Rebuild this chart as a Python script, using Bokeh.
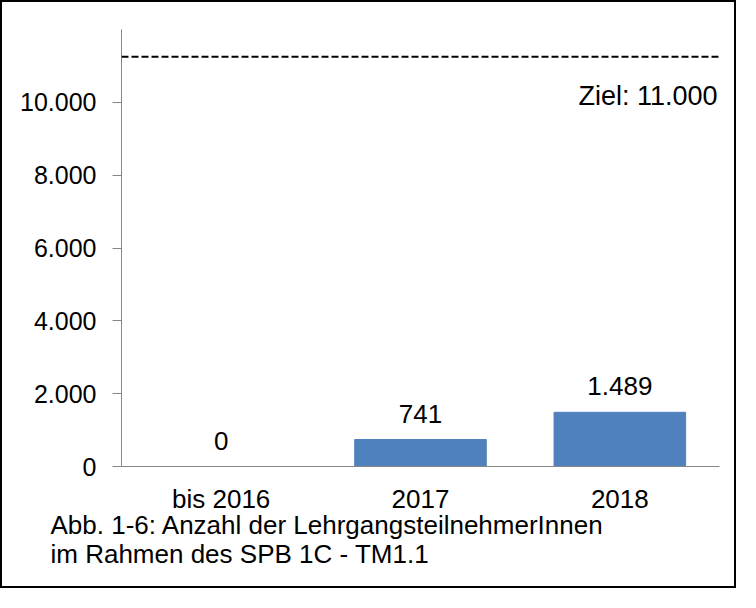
from bokeh.plotting import figure
from bokeh.models import FixedTicker, Span, Label, ColumnDataSource, Title
from bokeh.core.properties import value
from bokeh.embed import file_html
from bokeh.resources import INLINE

# ---- data ----
categories = ["bis 2016", "2017", "2018"]
participants = [0, 741, 1489]
value_labels = ["0", "741", "1.489"]
y_ticks = [0, 2000, 4000, 6000, 8000, 10000]
y_tick_labels = ["0", "2.000", "4.000", "6.000", "8.000", "10.000"]
y_max = 12000
target_text = "Ziel: 11.000"
target_line_level = 11250
target_text_level = 10000
caption_lines = ["Abb. 1-6: Anzahl der LehrgangsteilnehmerInnen",
                 "im Rahmen des SPB 1C - TM1.1"]

FONT = "Liberation Sans"
BAR = "#4F81BD"
AXIS = "#868686"

W, H = 736, 588
p = figure(x_range=categories, y_range=(0, y_max), width=W, height=H,
           output_backend="svg", toolbar_location=None,
           min_border_left=119, min_border_right=19,
           min_border_top=27, min_border_bottom=124)
p.styles = {"border": "2px solid black"}
p.outline_line_color = None
p.xgrid.visible = False
p.ygrid.visible = False
p.background_fill_color = "white"
p.border_fill_color = "white"

src = ColumnDataSource(dict(cat=categories, val=participants, lbl=value_labels))
p.vbar(x="cat", top="val", width=0.66, source=src, fill_color=BAR, line_color=BAR)
p.text(x="cat", y="val", text="lbl", source=src, text_align="center",
       text_baseline="middle", y_offset=-26, text_font=value(FONT),
       text_font_size="26px", text_color="black")

p.add_layout(Span(location=target_line_level, dimension="width", line_color="black",
                  line_dash="7 3", line_width=2))
p.add_layout(Label(x=len(categories), y=target_text_level, text=target_text,
                   text_align="right", text_baseline="middle", x_offset=-2, y_offset=6,
                   text_font=FONT, text_font_size="27px", text_color="black"))

yax = p.yaxis[0]
yax.ticker = FixedTicker(ticks=y_ticks)
yax.major_label_overrides = {t: l for t, l in zip(y_ticks, y_tick_labels)}
yax.axis_line_color = AXIS
yax.major_tick_line_color = AXIS
yax.major_tick_out = 9
yax.major_tick_in = 0
yax.minor_tick_line_color = None
yax.major_label_standoff = 16
yax.major_label_text_font = FONT
yax.major_label_text_font_size = "25px"
yax.major_label_text_color = "black"

xax = p.xaxis[0]
xax.axis_line_color = AXIS
xax.major_tick_line_color = None
xax.minor_tick_line_color = None
xax.major_label_standoff = 11
xax.major_label_text_font = FONT
xax.major_label_text_font_size = "26px"
xax.major_label_text_color = "black"

for line, so in zip(caption_lines, [-14, 8]):
    p.add_layout(Title(text=line, align="left", offset=-71, standoff=so,
                       vertical_align="top",
                       text_font=FONT, text_font_size="26px",
                       text_font_style="normal", text_color="black"), "below")

open("out.html", "w").write(file_html(p, INLINE))
